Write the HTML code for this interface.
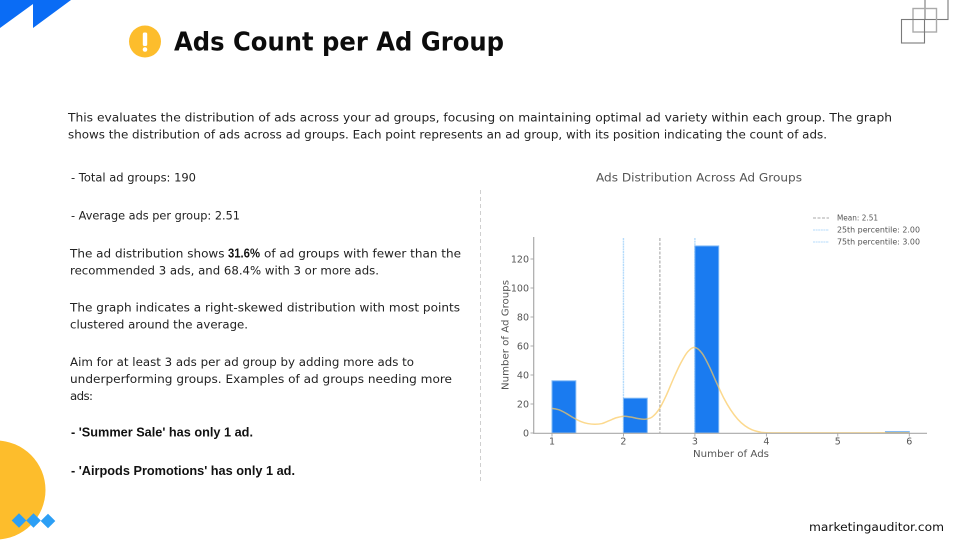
<!DOCTYPE html>
<html lang="en">
<head>
<meta charset="utf-8">
<title>Ads Count per Ad Group</title>
<style>
html,body{margin:0;padding:0;background:#fff;width:960px;height:540px;overflow:hidden}
svg{display:block;font-family:"DejaVu Sans","Liberation Sans",sans-serif}
.body-text{font-size:11.8px;fill:#222}
.bold-text{font-family:"Liberation Sans","DejaVu Sans",sans-serif;font-size:12.6px;font-weight:700;fill:#111}
</style>
</head>
<body>
<svg id="slide" width="960" height="540" viewBox="0 0 960 540" xmlns="http://www.w3.org/2000/svg">
  <rect width="960" height="540" fill="#fff"/>
  <polygon points="0,0 71,0 33,28 33,4 0,28" fill="#0a6cf5"/>
  <g fill="none" stroke="#7a7a7a" stroke-width="1.1">
    <rect x="925" y="-2" width="23" height="21.5"/>
    <rect x="913" y="8.5" width="23.5" height="23.5" stroke="#aaa" stroke-width="1.4"/>
    <rect x="901.5" y="19.5" width="23" height="23.5"/>
  </g>
  <circle cx="-4" cy="490" r="49.5" fill="#fdbd2c"/>
  <g fill="#2c9ff5">
    <polygon points="19,513.2 26.3,520.5 19,527.8 11.7,520.5"/>
    <polygon points="33.5,513.2 40.8,520.5 33.5,527.8 26.2,520.5"/>
    <polygon points="48,513.7 55.3,521 48,528.3 40.7,521"/>
  </g>
  <g>
    <circle cx="145" cy="41.5" r="16" fill="#fdbd2c"/>
    <rect x="142.8" y="32.5" width="4.4" height="13.5" rx="1.6" fill="#fff"/>
    <circle cx="145" cy="49.5" r="2.3" fill="#fff"/>
  </g>
  <text x="174" y="50.5" font-size="25.5" font-weight="700" fill="#0c0c0c" textLength="330" lengthAdjust="spacingAndGlyphs">Ads Count per Ad Group</text>

  <g>
    <text class="body-text" x="68" y="121.5" textLength="824" lengthAdjust="spacingAndGlyphs">This evaluates the distribution of ads across your ad groups, focusing on maintaining optimal ad variety within each group. The graph</text>
    <text class="body-text" x="68" y="138.5" textLength="759" lengthAdjust="spacingAndGlyphs">shows the distribution of ads across ad groups. Each point represents an ad group, with its position indicating the count of ads.</text>
  </g>

  <g>
    <text class="body-text" x="71" y="181.5" textLength="125" lengthAdjust="spacingAndGlyphs">- Total ad groups: 190</text>
    <text class="body-text" x="71" y="219.5" textLength="169" lengthAdjust="spacingAndGlyphs">- Average ads per group: 2.51</text>
    <text class="body-text" x="70" y="257.5" textLength="154.5" lengthAdjust="spacingAndGlyphs">The ad distribution shows</text>
    <text class="bold-text" x="228" y="257.5" textLength="32" lengthAdjust="spacingAndGlyphs">31.6%</text>
    <text class="body-text" x="264" y="257.5" textLength="197" lengthAdjust="spacingAndGlyphs">of ad groups with fewer than the</text>
    <text class="body-text" x="70" y="274.5" textLength="309" lengthAdjust="spacingAndGlyphs">recommended 3 ads, and 68.4% with 3 or more ads.</text>
    <text class="body-text" x="70" y="311.5" textLength="390" lengthAdjust="spacingAndGlyphs">The graph indicates a right-skewed distribution with most points</text>
    <text class="body-text" x="70" y="328.5" textLength="178" lengthAdjust="spacingAndGlyphs">clustered around the average.</text>
    <text class="body-text" x="70" y="366" textLength="344" lengthAdjust="spacingAndGlyphs">Aim for at least 3 ads per ad group by adding more ads to</text>
    <text class="body-text" x="70" y="383" textLength="382" lengthAdjust="spacingAndGlyphs">underperforming groups. Examples of ad groups needing more</text>
    <text class="body-text" x="70" y="400" textLength="23" lengthAdjust="spacing">ads:</text>
    <text class="bold-text" x="71" y="436.5" textLength="182" lengthAdjust="spacingAndGlyphs">- 'Summer Sale' has only 1 ad.</text>
    <text class="bold-text" x="71" y="475" textLength="224" lengthAdjust="spacingAndGlyphs">- 'Airpods Promotions' has only 1 ad.</text>
  </g>

  <line x1="480.5" y1="190" x2="480.5" y2="482" stroke="#cfcfcf" stroke-width="1" stroke-dasharray="4 3"/>
  <text x="596" y="181.5" font-size="11.5" fill="#555" textLength="206" lengthAdjust="spacingAndGlyphs">Ads Distribution Across Ad Groups</text>

  <g id="chart" style="filter:blur(0.35px)"></g>

  <text x="809" y="531" font-size="11.6" fill="#111" textLength="135" lengthAdjust="spacingAndGlyphs">marketingauditor.com</text>
</svg>
<script>
// Chart data
const binStarts = [1, 1.3333, 1.6667, 2, 2.3333, 2.6667, 3, 3.3333, 3.6667, 4, 4.3333, 4.6667, 5, 5.3333, 5.6667];
const binCounts = [36, 0, 0, 24, 0, 0, 129, 0, 0, 0, 0, 0, 0, 0, 1];
const kdeX = [1, 1.1, 1.2, 1.3, 1.4, 1.5, 1.6, 1.7, 1.8, 1.9, 2, 2.1, 2.2, 2.3, 2.4, 2.5, 2.6, 2.7, 2.8, 2.9, 3, 3.1, 3.2, 3.3, 3.4, 3.5, 3.6, 3.7, 3.8, 3.9, 4, 4.5, 5, 5.5, 6];
const kdeY = [17, 16, 13.5, 10.5, 8, 6.5, 6, 6.5, 8.5, 10.5, 11.5, 11, 10, 9.5, 11, 16.5, 26, 37.5, 48, 56, 59, 55, 46, 35, 24.5, 16, 9.5, 5, 2.2, 0.8, 0.2, 0.1, 0.1, 0.1, 0.2];
const xTicks = [1, 2, 3, 4, 5, 6];
const yTicks = [0, 20, 40, 60, 80, 100, 120];
const meanValue = 2.51;
const p25Value = 2.0;
const p75Value = 3.0;
const legendLabels = ["Mean: 2.51", "25th percentile: 2.00", "75th percentile: 3.00"];
const binWidth = 1 / 3;

const NS = "http://www.w3.org/2000/svg";
const chart = document.getElementById("chart");
const xScale = v => 552 + (v - 1) * 71.45;
const yScale = v => 433 - v * 1.45;
const TOP = 238;

function make(tag, attrs, text) {
  const el = document.createElementNS(NS, tag);
  for (const k in attrs) el.setAttribute(k, attrs[k]);
  if (text !== undefined) el.textContent = text;
  chart.appendChild(el);
  return el;
}

const p25 = make("line", {x1: xScale(p25Value), x2: xScale(p25Value), y1: TOP, y2: yScale(0), stroke: "#b5dbfb", "stroke-width": 1.4, "stroke-dasharray": "2 0.6"});


const p75 = make("line", {x1: xScale(p75Value), x2: xScale(p75Value), y1: TOP, y2: yScale(0), stroke: "#b5dbfb", "stroke-width": 1.4, "stroke-dasharray": "2 0.6"});


const meanLine = make("line", {x1: xScale(meanValue), x2: xScale(meanValue), y1: TOP, y2: yScale(0), stroke: "#b0b0b0", "stroke-width": 1.2, "stroke-dasharray": "3 1.5"});



binCounts.forEach((c, i) => {
  if (c <= 0) return;
  const el = make("rect", {
    x: xScale(binStarts[i]), y: yScale(c),
    width: xScale(binStarts[i] + binWidth) - xScale(binStarts[i]),
    height: yScale(0) - yScale(c),
    fill: "#1a7bf0", stroke: "#7fb8f5", "stroke-width": 1
  });
  
  
});

// KDE curve (Catmull-Rom smoothing through the read points)
const pts = kdeX.map((x, i) => [xScale(x), yScale(kdeY[i])]);
let d = "M" + pts[0][0] + " " + pts[0][1];
for (let i = 0; i < pts.length - 1; i++) {
  const p0 = pts[Math.max(i - 1, 0)], p1 = pts[i], p2 = pts[i + 1], p3 = pts[Math.min(i + 2, pts.length - 1)];
  const c1x = p1[0] + (p2[0] - p0[0]) / 6, c1y = p1[1] + (p2[1] - p0[1]) / 6;
  const c2x = p2[0] - (p3[0] - p1[0]) / 6, c2y = p2[1] - (p3[1] - p1[1]) / 6;
  d += " C" + c1x + " " + c1y + " " + c2x + " " + c2y + " " + p2[0] + " " + p2[1];
}
const kde = make("path", {d: d, fill: "none", stroke: "#fbc95e", "stroke-width": 1.5, opacity: 0.7});



const ySpine = make("line", {x1: 533.7, x2: 533.7, y1: 237, y2: 433.5, stroke: "#aaa", "stroke-width": 1.2});


const xSpine = make("line", {x1: 533, x2: 927, y1: 433.3, y2: 433.3, stroke: "#aaa", "stroke-width": 1.2});



xTicks.forEach(t => {
  const tick = make("line", {x1: xScale(t), x2: xScale(t), y1: 433.5, y2: 436.5, stroke: "#999", "stroke-width": 0.8});
  
  
  const lab = make("text", {x: xScale(t), y: 444.5, "text-anchor": "middle", "font-size": 9.5, fill: "#555"}, String(t));
  
  
});
yTicks.forEach(t => {
  const tick = make("line", {x1: 530.5, x2: 533.5, y1: yScale(t), y2: yScale(t), stroke: "#999", "stroke-width": 0.8});
  
  
  const lab = make("text", {x: 529, y: yScale(t) + 3.4, "text-anchor": "end", "font-size": 9.5, fill: "#555"}, String(t));
  
  
});

const xTitle = make("text", {x: 693, y: 457, "font-size": 10, fill: "#555", textLength: 76, lengthAdjust: "spacingAndGlyphs"}, "Number of Ads");


const yTitle = make("text", {x: 0, y: 0, "font-size": 10, fill: "#555", "text-anchor": "middle", transform: "translate(508.5 335) rotate(-90)", textLength: 110, lengthAdjust: "spacingAndGlyphs"}, "Number of Ad Groups");



const legendColors = ["#aaa", "#b5dbfb", "#b5dbfb"];
const legendDash = ["3 1.5", "2 0.6", "2 0.6"];
const legendWidths = [41, 83, 83];
legendLabels.forEach((label, i) => {
  const y = 218 + i * 12;
  const sw = make("line", {x1: 813, x2: 829, y1: y, y2: y, stroke: legendColors[i], "stroke-width": 1, "stroke-dasharray": legendDash[i]});
  
  
  const tx = make("text", {x: 837, y: y + 2.6, "font-size": 7.5, fill: "#555", textLength: legendWidths[i], lengthAdjust: "spacingAndGlyphs"}, label);
  
  
});
</script>
</body>
</html>
